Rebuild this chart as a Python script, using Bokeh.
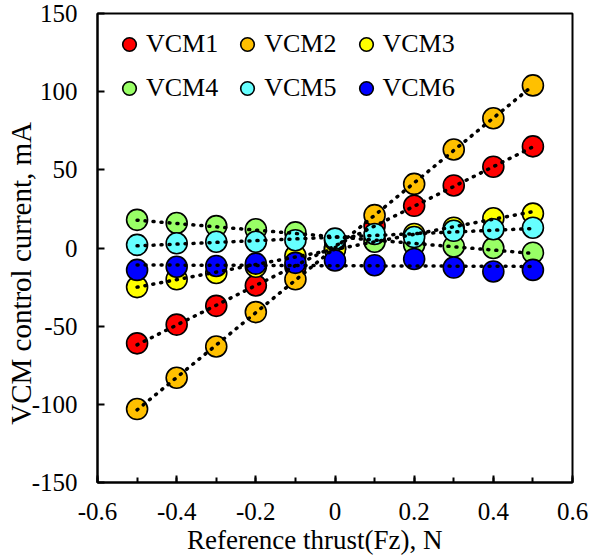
import numpy as np
from bokeh.plotting import figure
from bokeh.models import (ColumnDataSource, Legend, LegendItem,
                          FixedTicker, Range1d)
from bokeh.embed import file_html
from bokeh.resources import INLINE

# ---------------- data ----------------
thrust = [-0.5, -0.4, -0.3, -0.2, -0.1, 0.0, 0.1, 0.2, 0.3, 0.4, 0.5]
vcm1 = [-61, -49, -37, -24, -12, 0, 14, 27, 40, 52, 65]
vcm2 = [-103, -83, -63, -41, -20, 0, 21, 41, 63, 83, 104]
vcm3 = [-25, -20, -16, -12, -5, -1, 6, 9, 13, 19, 22]
vcm4 = [18, 16, 14, 12, 10, 5, 4, 2, 1, 0, -3]
vcm5 = [2, 3, 4, 4, 5, 6, 9, 7, 11, 12, 13]
vcm6 = [-14, -12, -11.5, -10, -9.5, -8, -11, -7, -12.5, -15, -14]

series_names = ["VCM1", "VCM2", "VCM3", "VCM4", "VCM5", "VCM6"]
series_values = [vcm1, vcm2, vcm3, vcm4, vcm5, vcm6]
series_colors = ["#FF0000", "#FFC000", "#FFFF00", "#99FF66", "#66FFFF", "#0000FF"]

x_ticks = [-0.6, -0.4, -0.2, 0.0, 0.2, 0.4, 0.6]
x_tick_labels = ["-0.6", "-0.4", "-0.2", "0", "0.2", "0.4", "0.6"]
x_minor_ticks = [-0.6, -0.5, -0.4, -0.3, -0.2, -0.1, 0.0, 0.1, 0.2, 0.3, 0.4, 0.5, 0.6]
y_ticks = [-150, -100, -50, 0, 50, 100, 150]
y_tick_labels = ["-150", "-100", "-50", "0", "50", "100", "150"]

x_title = "Reference thrust(Fz), N"
y_title = "VCM  control current, mA"

FONT = "Liberation Serif"

p = figure(width=590, height=558, output_backend="svg", toolbar_location=None,
           x_range=Range1d(-0.6, 0.6), y_range=Range1d(-150, 150),
           frame_width=475, frame_height=469,
           min_border_left=97, min_border_right=18, min_border_top=13, min_border_bottom=76)

p.xgrid.visible = False
p.ygrid.visible = False
p.outline_line_color = "black"
p.outline_line_width = 2
p.background_fill_color = "white"
p.border_fill_color = "white"

# axes
p.xaxis.ticker = FixedTicker(ticks=x_ticks, minor_ticks=x_minor_ticks)
p.xaxis.major_label_overrides = {t: l for t, l in zip(x_ticks, x_tick_labels)}
p.yaxis.ticker = FixedTicker(ticks=y_ticks)
p.yaxis.major_label_overrides = {t: l for t, l in zip(y_ticks, y_tick_labels)}
for ax in (p.xaxis[0], p.yaxis[0]):
    ax.axis_line_color = "black"
    ax.axis_line_width = 2
    ax.major_tick_line_color = "black"
    ax.major_tick_line_width = 2
    ax.major_tick_in = 7
    ax.major_tick_out = 0
    ax.major_label_text_font = FONT
    ax.major_label_text_font_size = "25px"
    ax.major_label_text_color = "black"
    ax.axis_label_text_font = FONT
    ax.axis_label_text_font_style = "normal"
    ax.axis_label_text_color = "black"
    ax.axis_label_text_font_size = "27px"
p.yaxis.axis_label_text_font_size = "29px"
p.xaxis.minor_tick_line_color = "black"
p.xaxis.minor_tick_line_width = 2
p.xaxis.minor_tick_in = 5
p.xaxis.minor_tick_out = 0
p.yaxis.minor_tick_line_color = None
p.xaxis.major_label_standoff = 20
p.yaxis.major_label_standoff = 20
p.xaxis.axis_label = x_title + "\u00a0" * 6
p.xaxis.axis_label_standoff = 2
p.yaxis.axis_label = y_title + "\u00a0" * 6
p.yaxis.axis_label_standoff = -8

renderers = []
for name, vals, col in zip(series_names, series_values, series_colors):
    src = ColumnDataSource(dict(x=thrust, y=vals))
    r = p.scatter("x", "y", source=src, size=21, fill_color=col,
                  line_color="black", line_width=1.6)
    renderers.append(r)

# linear trendlines (dotted)
for vals in series_values:
    k, b = np.polyfit(thrust, vals, 1)
    xs = [min(thrust), max(thrust)]
    p.line(xs, [k * xs[0] + b, k * xs[1] + b], line_color="black", line_width=3.5,
           line_dash="1 7", line_cap="round")

# legends (two rows)
def make_legend(idx, vy):
    items = [LegendItem(label=series_names[i], renderers=[renderers[i]]) for i in idx]
    lg = Legend(items=items, orientation="horizontal", location=(15, vy),
                border_line_color=None, background_fill_alpha=0,
                padding=0, margin=0, spacing=12,
                glyph_width=34, glyph_height=36, label_height=36, label_standoff=0,
                label_text_font=FONT, label_text_font_size="26px",
                label_text_color="black")
    p.add_layout(lg, "center")

make_legend([0, 1, 2], 420)
make_legend([3, 4, 5], 376)

open("out.html", "w").write(file_html(p, INLINE))
